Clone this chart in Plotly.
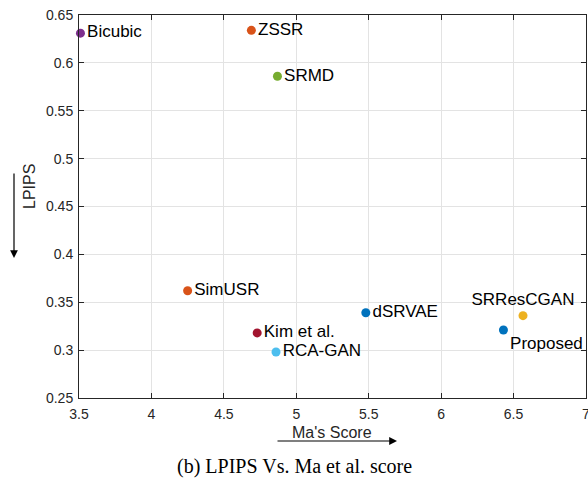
import plotly.graph_objects as go

methods = ["Bicubic", "ZSSR", "SRMD", "SimUSR", "Kim et al.", "RCA-GAN", "dSRVAE", "Proposed", "SRResCGAN"]
ma_score = [3.51, 4.69, 4.87, 4.25, 4.73, 4.86, 5.48, 6.43, 6.565]
lpips = [0.631, 0.634, 0.586, 0.362, 0.318, 0.298, 0.339, 0.321, 0.336]
colors = ["#7E2F8E", "#D95319", "#77AC30", "#D95319", "#A2142F", "#4DBEEE", "#0072BD", "#0072BD", "#EDB120"]
text_pos = ["middle right"] * 7 + ["bottom right", "top center"]

x_ticks = [3.5, 4, 4.5, 5, 5.5, 6, 6.5, 7]
x_tick_labels = ["3.5", "4", "4.5", "5", "5.5", "6", "6.5", "7"]
y_ticks = [0.25, 0.3, 0.35, 0.4, 0.45, 0.5, 0.55, 0.6, 0.65]
y_tick_labels = ["0.25", "0.3", "0.35", "0.4", "0.45", "0.5", "0.55", "0.6", "0.65"]

fig = go.Figure()
for m, xv, yv, c, tp in zip(methods, ma_score, lpips, colors, text_pos):
    fig.add_trace(go.Scatter(
        x=[xv], y=[yv], mode="markers+text", text=[m], textposition=tp,
        marker=dict(color=c, size=9),
        textfont=dict(family="Liberation Sans, Arial", size=17, color="black"),
        showlegend=False, cliponaxis=False, hoverinfo="skip"))

axis_common = dict(showline=True, linecolor="#262626", linewidth=1, mirror="ticks",
                   ticks="inside", ticklen=5, tickcolor="#262626",
                   showgrid=True, gridcolor="#E3E3E3", gridwidth=1, zeroline=False,
                   ticklabeloverflow="allow", automargin=False,
                   tickfont=dict(family="Liberation Sans, Arial", size=14, color="#262626"))

fig.update_xaxes(range=[3.5, 7], tickvals=x_ticks, ticktext=x_tick_labels, ticklabelstandoff=3, **axis_common)
fig.update_yaxes(range=[0.25, 0.65], tickvals=y_ticks, ticktext=y_tick_labels, ticklabelstandoff=2, **axis_common)

W, H = 588, 483
L, R, T, B = 79, 2, 15, 85
pw, ph = W - L - R, H - T - B

def px(xp):
    return (xp - L) / pw

def py(yp):
    return (H - B - yp) / ph

annots = [
    # x-axis arrow
    dict(x=px(397), y=py(441), xref="paper", yref="paper", ax=-121, ay=0,
         showarrow=True, arrowhead=2, arrowsize=1.3, arrowwidth=1.2, arrowcolor="black", text=""),
    dict(x=px(332), y=py(432), xref="paper", yref="paper", showarrow=False,
         xanchor="center", yanchor="middle",
         text="Ma's Score", font=dict(family="Liberation Sans, Arial", size=16, color="#262626")),
    # y-axis arrow
    dict(x=px(14), y=py(258), xref="paper", yref="paper", ax=0, ay=-86,
         showarrow=True, arrowhead=2, arrowsize=1.3, arrowwidth=1.2, arrowcolor="black", text=""),
    dict(x=px(29), y=py(187), xref="paper", yref="paper", showarrow=False, textangle=-90,
         xanchor="center", yanchor="middle",
         text="LPIPS", font=dict(family="Liberation Sans, Arial", size=16, color="#262626")),
    # caption
    dict(x=px(294), y=py(466), xref="paper", yref="paper", showarrow=False,
         xanchor="center", yanchor="middle",
         text="(b) LPIPS Vs. Ma et al. score", font=dict(family="Liberation Serif, Times New Roman", size=20, color="black")),
]
fig.update_layout(width=W, height=H, margin=dict(l=L, r=R, t=T, b=B),
                  plot_bgcolor="white", paper_bgcolor="white", annotations=annots)

fig.write_html("out.html", config={"displayModeBar": False},
               post_script="document.body.style.margin='0';")
